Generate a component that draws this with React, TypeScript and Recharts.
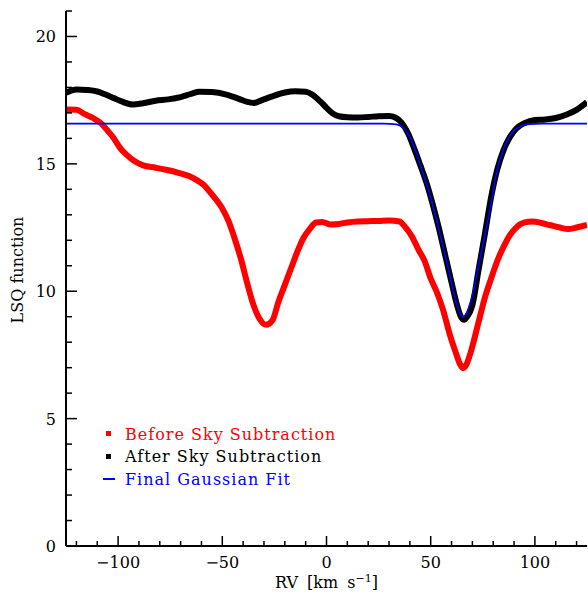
import { LineChart, Line, XAxis, YAxis, Legend } from 'recharts';

// before sky subtraction (red)
const rvBefore = [
  -125, -120, -116, -112, -108, -105, -102, -99, -96, -92, -88, -82, -77, -71, -66, -62, -59, -56, -53, -50,
  -47, -44, -41, -38, -35, -32, -29, -26, -23, -20, -17, -14, -11, -8, -5, -2, 2, 6, 10, 15, 20, 25, 30, 35,
  38, 41, 44, 47, 50, 53, 56, 59, 62, 64, 65.5, 67, 69, 71, 73, 76, 79, 82, 85, 88, 91, 95, 99, 103, 107,
  112, 116, 120, 125,
];
const lsqBefore = [
  17.13, 17.12, 16.95, 16.8, 16.58, 16.3, 16.0, 15.62, 15.36, 15.1, 14.94, 14.85, 14.77, 14.65, 14.52, 14.35,
  14.18, 13.9, 13.6, 13.25, 12.75, 12.05, 11.25, 10.3, 9.45, 8.9, 8.68, 8.85, 9.6, 10.25, 10.9, 11.55, 12.1,
  12.45, 12.7, 12.72, 12.62, 12.64, 12.7, 12.74, 12.75, 12.76, 12.78, 12.74, 12.5, 12.15, 11.65, 11.2, 10.5,
  9.95, 9.25, 8.35, 7.6, 7.15, 6.98, 7.1, 7.55, 8.15, 8.8, 9.75, 10.5, 11.2, 11.75, 12.2, 12.5, 12.7, 12.74,
  12.68, 12.6, 12.5, 12.44, 12.5, 12.6,
];

// after sky subtraction (black)
const rvAfter = [
  -125, -120, -115, -110, -106, -102, -98, -93, -88, -82, -76, -70, -65, -61, -55, -48, -42, -38, -35, -31,
  -26, -20, -15, -10, -7, -3, 0, 3, 6, 10, 15, 20, 25, 30, 33, 36, 39, 42, 45, 48, 51, 54, 57, 60, 62.5,
  64.5, 66, 67.5, 70, 73, 76, 79, 82, 85, 88, 91, 95, 100, 105, 110, 115, 120, 125,
];
const lsqAfter = [
  17.79, 17.92, 17.9, 17.84, 17.72, 17.58, 17.44, 17.33, 17.38, 17.48, 17.53, 17.62, 17.75, 17.83, 17.82,
  17.72, 17.55, 17.43, 17.39, 17.5, 17.65, 17.8, 17.85, 17.83, 17.73, 17.45, 17.2, 16.98, 16.87, 16.83,
  16.82, 16.84, 16.87, 16.88, 16.82, 16.62, 16.22, 15.62, 14.95, 14.25, 13.4, 12.45, 11.4, 10.35, 9.5, 9.0,
  8.88, 9.0, 9.45, 10.85, 12.25, 13.7, 14.8, 15.55, 16.05, 16.38, 16.6, 16.72, 16.74, 16.8, 16.93, 17.12,
  17.42,
];

// final gaussian fit (blue)
const rvFit = [
  -125, 0, 27.5, 33.5, 37, 40, 43, 46, 49, 52, 55, 58, 61, 63.5, 65.5, 67.5, 70, 73, 76, 79, 82, 85, 88, 91,
  94, 97.5, 103.5, 125,
];
const lsqFit = [
  16.58, 16.58, 16.58, 16.55, 16.4, 16.05, 15.45, 14.7, 13.95, 13.05, 12.05, 11.05, 9.95, 9.25, 8.98, 9.2,
  9.85, 11.0, 12.2, 13.45, 14.8, 15.6, 16.1, 16.38, 16.5, 16.56, 16.58, 16.58,
];

const seriesNames = ['Before Sky Subtraction', 'After Sky Subtraction', 'Final Gaussian Fit'];

const xTicks = [-120, -110, -100, -90, -80, -70, -60, -50, -40, -30, -20, -10, 0, 10, 20, 30, 40, 50, 60, 70, 80, 90, 100, 110, 120];
const xMajor = [-100, -50, 0, 50, 100];
const yTicks = [0, 1, 2, 3, 4, 5, 6, 7, 8, 9, 10, 11, 12, 13, 14, 15, 16, 17, 18, 19, 20, 21];
const yMajor = [0, 5, 10, 15, 20];

const before = rvBefore.map((rv, i) => ({ rv, lsq: lsqBefore[i] }));
const after = rvAfter.map((rv, i) => ({ rv, lsq: lsqAfter[i] }));
const fit = rvFit.map((rv, i) => ({ rv, lsq: lsqFit[i] }));

const FONT = '"DejaVu Serif", serif';
const fmt = (v: number) => (v < 0 ? '\u2212' + Math.abs(v) : String(v));

const BottomTick = ({ x, y, payload }: any) => {
  const major = xMajor.includes(payload.value);
  return (
    <g>
      <line x1={x} x2={x} y1={y} y2={y - (major ? 10 : 5)} stroke="#000" strokeWidth={1.5} />
      {major && (
        <text x={x} y={y + 22} textAnchor="middle" fontFamily={FONT} fontSize={16} fill="#000">
          {fmt(payload.value)}
        </text>
      )}
    </g>
  );
};

const TopTick = ({ x, y, payload }: any) => {
  const major = xMajor.includes(payload.value);
  return <line x1={x} x2={x} y1={y} y2={y + (major ? 10 : 5)} stroke="#000" strokeWidth={1.5} />;
};

const LeftTick = ({ x, y, payload }: any) => {
  const major = yMajor.includes(payload.value);
  return (
    <g>
      <line x1={x} x2={x + (major ? 11 : 6)} y1={y} y2={y} stroke="#000" strokeWidth={1.5} />
      {major && (
        <text x={x - 10} y={y + 6} textAnchor="end" fontFamily={FONT} fontSize={16} fill="#000">
          {payload.value}
        </text>
      )}
    </g>
  );
};

const RightTick = ({ x, y, payload }: any) => {
  const major = yMajor.includes(payload.value);
  return <line x1={x} x2={x - (major ? 11 : 6)} y1={y} y2={y} stroke="#000" strokeWidth={1.5} />;
};

const LegendBox = ({ payload }: any) => {
  const items = [...(payload || [])].sort(
    (a: any, b: any) => seriesNames.indexOf(a.value) - seriesNames.indexOf(b.value),
  );
  return (
    <div style={{ fontFamily: FONT, fontSize: 16, letterSpacing: 1, textAlign: 'left' }}>
      {items.map((entry: any) => (
        <div key={entry.value} style={{ display: 'flex', alignItems: 'center', height: 22.5, color: entry.color }}>
          <div style={{ position: 'relative', width: 25, height: 22 }}>
            {entry.type === 'line' ? (
              <div style={{ position: 'absolute', left: 3, top: 10, width: 12, height: 2, background: entry.color }} />
            ) : (
              <div style={{ position: 'absolute', left: 6, top: 8, width: 5, height: 5, background: entry.color }} />
            )}
          </div>
          <span style={{ whiteSpace: 'nowrap' }}>{entry.value}</span>
        </div>
      ))}
    </div>
  );
};

const XTitle = ({ viewBox }: any) => (
  <text
    x={viewBox.x + viewBox.width / 2}
    y={588}
    textAnchor="middle"
    fontFamily={FONT}
    fontSize={16}
    fill="#000"
    style={{ wordSpacing: 4 }}
  >
    RV [km s<tspan dy={-6} fontSize={11}>{'\u2212'}1</tspan><tspan dy={6}>]</tspan>
  </text>
);

const YTitle = () => (
  <text x={23} y={270} transform="rotate(-90 23 270)" textAnchor="middle" fontFamily={FONT} fontSize={16} fill="#000">
    LSQ function
  </text>
);

const App = () => {
  return (
    <div style={{ position: 'absolute', left: 0, top: 0, width: 588, height: 594, background: '#fff' }}>
      <LineChart width={588} height={594} margin={{ top: 11, right: 1, bottom: 0, left: 0 }}>
        <XAxis
          xAxisId="b"
          type="number"
          dataKey="rv"
          domain={[-125, 125]}
          allowDataOverflow
          ticks={xTicks}
          interval={0}
          height={48}
          tickSize={0}
          tickMargin={0}
          tickLine={false}
          tick={(p: any) => <BottomTick {...p} />}
          axisLine={{ stroke: '#000', strokeWidth: 2 }}
          label={<XTitle />}
        />
        <XAxis
          xAxisId="t"
          orientation="top"
          type="number"
          domain={[-125, 125]}
          allowDataOverflow
          ticks={xTicks}
          interval={0}
          height={0}
          tickSize={0}
          tickMargin={0}
          tickLine={false}
          tick={(p: any) => <TopTick {...p} />}
          axisLine={{ stroke: '#000', strokeWidth: 2 }}
        />
        <YAxis
          yAxisId="l"
          type="number"
          domain={[0, 21]}
          allowDataOverflow
          ticks={yTicks}
          interval={0}
          width={66}
          tickSize={0}
          tickMargin={0}
          tickLine={false}
          tick={(p: any) => <LeftTick {...p} />}
          axisLine={{ stroke: '#000', strokeWidth: 2 }}
          label={<YTitle />}
        />
        <YAxis
          yAxisId="r"
          orientation="right"
          type="number"
          domain={[0, 21]}
          allowDataOverflow
          ticks={yTicks}
          interval={0}
          width={0}
          tickSize={0}
          tickMargin={0}
          tickLine={false}
          tick={(p: any) => <RightTick {...p} />}
          axisLine={{ stroke: '#000', strokeWidth: 2 }}
        />
        <Legend
          layout="horizontal"
          verticalAlign="middle"
          align="center"
          content={<LegendBox />}
          wrapperStyle={{ left: 100, top: 423, width: 'auto' }}
        />
        <Line
          xAxisId="b"
          yAxisId="l"
          data={before}
          dataKey="lsq"
          name={seriesNames[0]}
          legendType="square"
          type="monotone"
          stroke="#ff0000"
          strokeWidth={6}
          dot={false}
          isAnimationActive={false}
        />
        <Line
          xAxisId="b"
          yAxisId="l"
          data={after}
          dataKey="lsq"
          name={seriesNames[1]}
          legendType="square"
          type="monotone"
          stroke="#000000"
          strokeWidth={6}
          dot={false}
          isAnimationActive={false}
        />
        <Line
          xAxisId="b"
          yAxisId="l"
          data={fit}
          dataKey="lsq"
          name={seriesNames[2]}
          legendType="line"
          type="monotone"
          stroke="#0000ff"
          strokeWidth={1.6}
          dot={false}
          isAnimationActive={false}
        />
      </LineChart>
    </div>
  );
};

export default App;
